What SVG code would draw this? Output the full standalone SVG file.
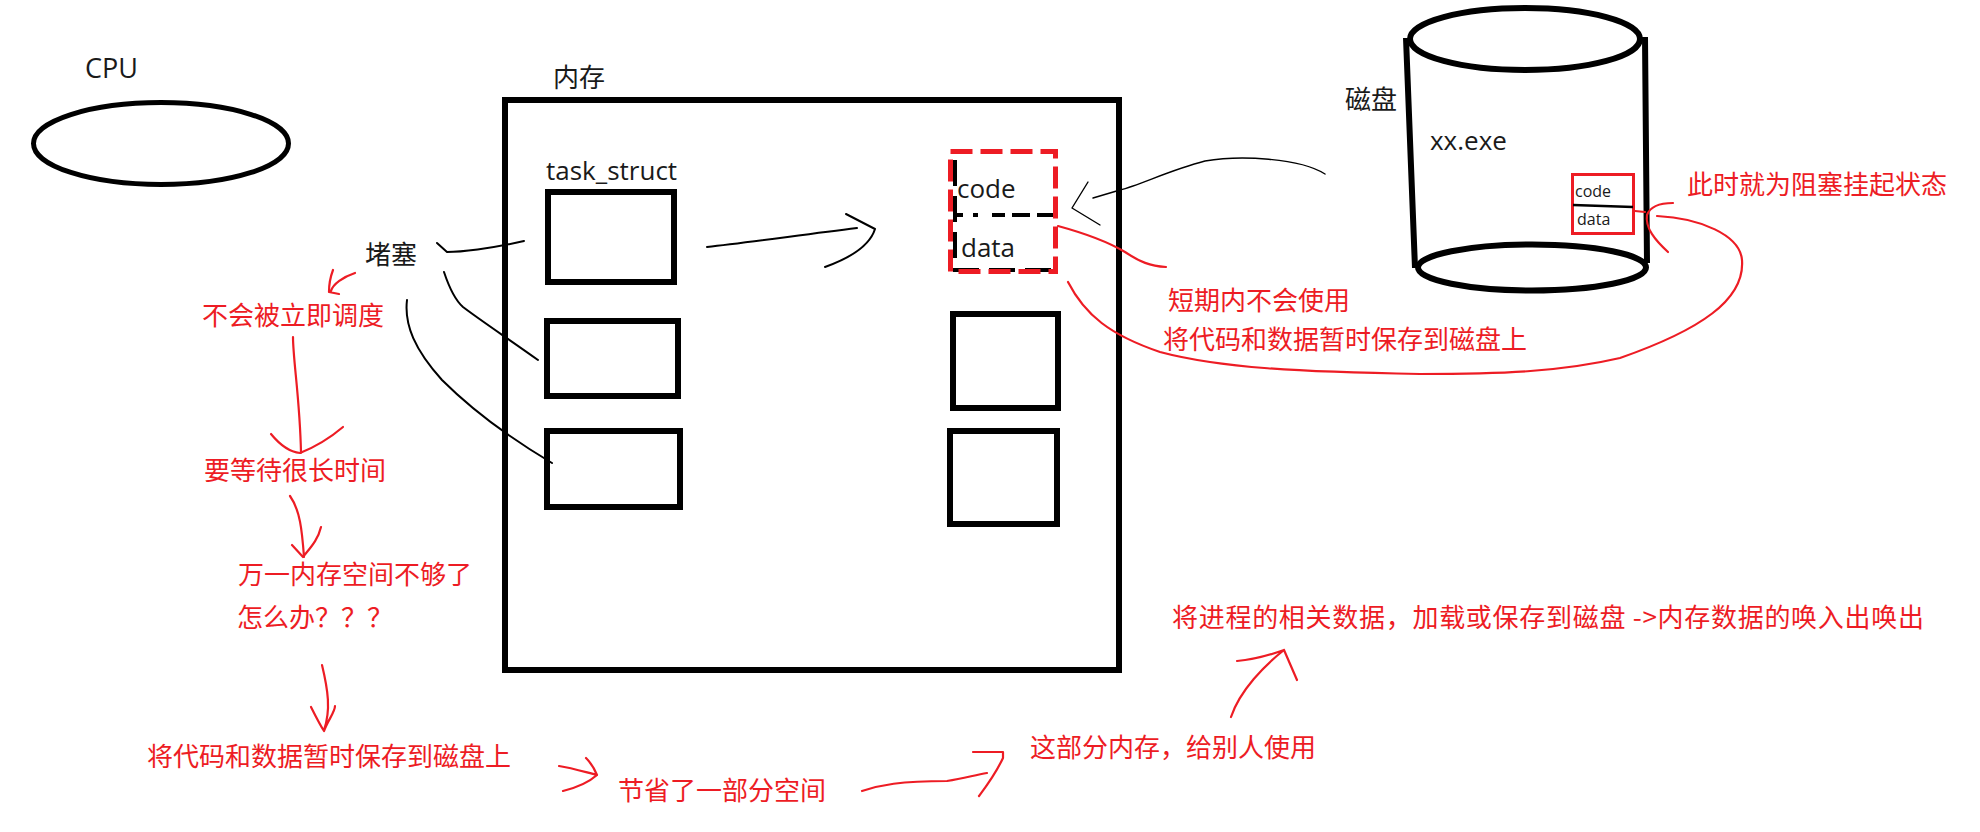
<svg xmlns="http://www.w3.org/2000/svg" width="1980" height="832" viewBox="0 0 1980 832">
<style>
.bx{fill:none;stroke:#000;stroke-width:6}
.k{fill:none;stroke:#000;stroke-width:2;stroke-linecap:round;stroke-linejoin:round}
.r{fill:none;stroke:#ED1C24;stroke-width:2.2;stroke-linecap:round;stroke-linejoin:round}
.zh{font-family:"Noto Sans CJK SC","Microsoft YaHei",sans-serif;font-size:26px}
.en{font-family:"Open Sans","Noto Sans",sans-serif;font-size:26px}
.sm{font-family:"Open Sans","Noto Sans",sans-serif;font-size:16px}
.red{fill:#ED1C24}
.blk{fill:#1a1a1a}
</style>
<rect width="1980" height="832" fill="#fff"/>

<g id="cpu">
<ellipse cx="161" cy="143.5" rx="127.5" ry="41" fill="none" stroke="#000" stroke-width="5"/>
<text x="85" y="78" class="en blk" style="font-size:27px">CPU</text>
</g>

<g id="memory">
<rect x="505" y="100" width="614" height="570" class="bx"/>
<text x="553" y="87" class="zh blk">内存</text>
</g>

<g id="task-struct">
<text x="546" y="180" class="en blk">task_struct</text>
<rect x="548" y="192" width="126" height="90" class="bx"/>
</g>
<g id="task-box-2"><rect x="547" y="321" width="131" height="75" class="bx"/></g>
<g id="task-box-3"><rect x="547" y="431" width="133" height="76" class="bx"/></g>

<g id="code-data">
<path d="M955,160 V270 H1055" fill="none" stroke="#000" stroke-width="4" stroke-dasharray="26 10"/>
<rect x="950.5" y="151.5" width="105" height="120" fill="none" stroke="#ED1C24" stroke-width="5" stroke-dasharray="22 8"/>
<path d="M953,215 H1053" fill="none" stroke="#000" stroke-width="4" stroke-dasharray="10 10 5 14 13 7 18 7 16"/>
<text x="957" y="198" class="en blk">code</text>
<text x="961" y="257" class="en blk">data</text>
</g>
<g id="mem-box-2"><rect x="953" y="314" width="105" height="94" class="bx"/></g>
<g id="mem-box-3"><rect x="950" y="431" width="107" height="93" class="bx"/></g>

<g id="disk">
<ellipse cx="1525" cy="39" rx="115" ry="31" class="bx"/>
<path d="M1406,38 L1415,268 M1645,37 L1647,263" class="bx"/>
<ellipse cx="1532" cy="267.5" rx="114" ry="23" class="bx"/>
<text x="1345" y="109" class="zh blk">磁盘</text>
<text x="1430" y="150" class="en blk">xx.exe</text>
<rect x="1572.5" y="174.5" width="61" height="59" fill="none" stroke="#ED1C24" stroke-width="3"/>
<path d="M1573,205 L1633,207" fill="none" stroke="#000" stroke-width="2.5"/>
<text x="1575" y="197" class="sm blk">code</text>
<text x="1577" y="225" class="sm blk">data</text>
</g>

<g id="labels">
<text x="365" y="264" class="zh blk">堵塞</text>
<text x="1687" y="194" class="zh red">此时就为阻塞挂起状态</text>
<text x="1168" y="310" class="zh red">短期内不会使用</text>
<text x="1163" y="349" class="zh red">将代码和数据暂时保存到磁盘上</text>
<text x="202" y="325" class="zh red">不会被立即调度</text>
<text x="204" y="480" class="zh red">要等待很长时间</text>
<text x="238" y="584" class="zh red">万一内存空间不够了</text>
<text x="237" y="627" class="zh red">怎么办？？？</text>
<text x="147" y="766" class="zh red">将代码和数据暂时保存到磁盘上</text>
<text x="618" y="800" class="zh red">节省了一部分空间</text>
<text x="1030" y="757" class="zh red">这部分内存，给别人使用</text>
<text x="1172" y="627" class="zh red" textLength="752" lengthAdjust="spacing">将进程的相关数据，加载或保存到磁盘 -&gt;内存数据的唤入出唤出</text>
</g>

<g id="connectors">
<path class="k" d="M437,243 L447,252 C460,252 490,249 524,241"/>
<path class="k" d="M444,272 C450,290 455,300 463,307 C480,320 510,340 538,360"/>
<path class="k" d="M407,300 C404,325 415,350 442,380 C470,408 510,438 552,463"/>
<path class="k" d="M707,247 C745,243 800,235 857,228"/>
<path class="k" d="M846,214 L875,229 C870,245 850,258 825,267"/>
<path class="k" style="stroke-width:1.4" d="M1325,174 C1300,158 1240,155 1205,161 C1170,170 1140,185 1120,190 L1093,198"/>
<path class="k" style="stroke-width:1.4" d="M1088,182 L1072,208 L1100,225"/>

<path class="r" d="M1058,226 C1080,232 1105,240 1125,252 C1140,262 1150,266 1166,267"/>
<path class="r" d="M1068,282 C1085,315 1110,335 1160,352 C1220,368 1300,372 1420,374 C1500,374 1560,372 1620,358 C1700,330 1745,300 1742,260 C1740,235 1700,218 1657,216"/>
<path class="r" d="M1635,211 L1645,212 M1673,203 C1660,203 1650,207 1647,215 C1645,228 1655,240 1668,252"/>

<path class="r" d="M355,273 C343,277 333,284 331,291 M333,270 C330,278 329,285 329,292 L339,294"/>
<path class="r" d="M293,337 C293,360 300,400 301,453 M271,434 C280,445 290,452 300,453 C315,447 330,438 343,427"/>
<path class="r" d="M290,496 C300,510 302,530 304,557 M292,545 L303,557 C310,548 318,540 321,527"/>
<path class="r" d="M322,665 C328,690 331,710 324,730 M311,707 C315,715 320,725 324,731 C328,720 335,712 335,706"/>
<path class="r" d="M559,766 C572,768 585,772 597,775 M586,758 C592,764 595,770 597,775 C588,783 575,788 563,791"/>
<path class="r" d="M862,791 C880,785 900,781 947,781 C965,778 975,775 987,773 M973,752 L1003,752 L1003,758 C995,775 985,788 979,796"/>
<path class="r" d="M1231,717 C1240,690 1265,665 1284,650 M1237,661 C1250,660 1270,655 1284,650 L1297,680"/>
</g>
</svg>
